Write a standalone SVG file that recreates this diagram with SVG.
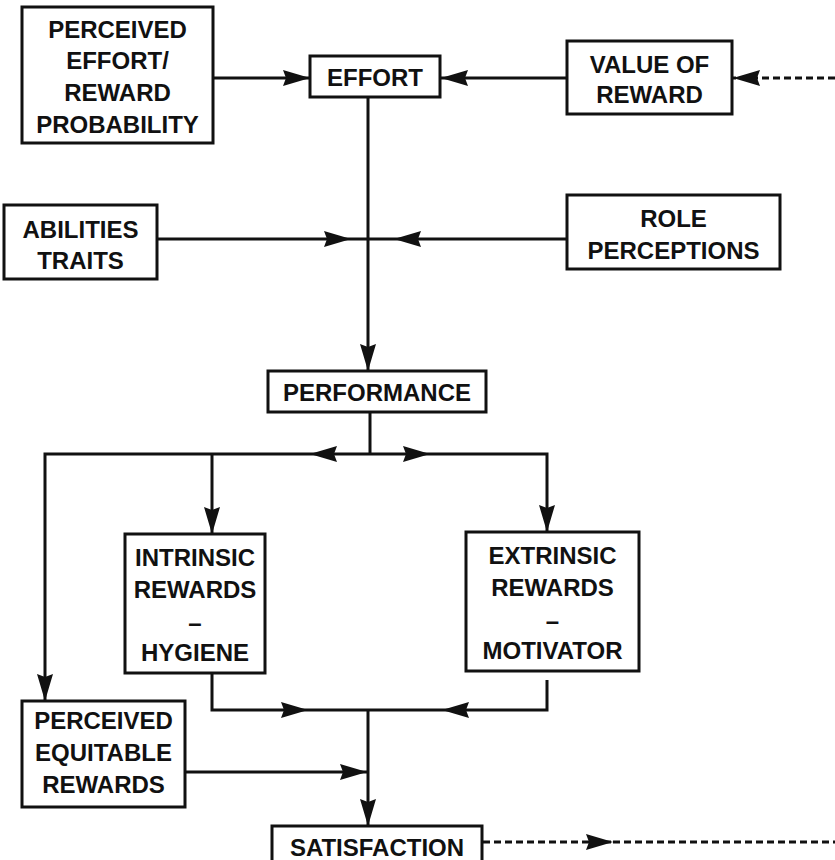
<svg xmlns="http://www.w3.org/2000/svg" width="835" height="860" viewBox="0 0 835 860">
  <style>
    .box { fill: #fff; stroke: #111; stroke-width: 3; }
    .lbl { font-family: "Liberation Sans", Arial, sans-serif; font-weight: bold; font-size: 24px; fill: #111; text-anchor: middle; }
    .ln { fill: none; stroke: #111; stroke-width: 3; }
    .dash { fill: none; stroke: #111; stroke-width: 3; stroke-dasharray: 7 4; }
  </style>
  <defs>
    <marker id="arrow" markerUnits="userSpaceOnUse" markerWidth="30" markerHeight="18" refX="27" refY="8" orient="auto">
      <path d="M0,0 L27,8 L0,16 L3,8 z" fill="#111"/>
    </marker>
  </defs>
  <rect width="835" height="860" fill="#fff"/>

  <g id="connectors">
    <!-- inputs to effort -->
    <line class="ln" x1="213" y1="78" x2="310" y2="78" marker-end="url(#arrow)"/>
    <line class="ln" x1="567" y1="78" x2="441" y2="78" marker-end="url(#arrow)"/>
    <line class="dash" x1="835" y1="78" x2="733" y2="78" marker-end="url(#arrow)"/>
    <!-- effort to performance -->
    <line class="ln" x1="368" y1="97" x2="368" y2="371" marker-end="url(#arrow)"/>
    <!-- abilities / role perceptions into the effort line -->
    <line class="ln" x1="157" y1="239" x2="351" y2="239" marker-end="url(#arrow)"/>
    <line class="ln" x1="351" y1="239" x2="394" y2="239"/>
    <line class="ln" x1="567" y1="239" x2="394" y2="239" marker-end="url(#arrow)"/>
    <!-- performance split -->
    <line class="ln" x1="370" y1="412" x2="370" y2="454"/>
    <line class="ln" x1="370" y1="454" x2="310" y2="454" marker-end="url(#arrow)"/>
    <polyline class="ln" points="310,454 45,454 45,701" marker-end="url(#arrow)"/>
    <line class="ln" x1="212" y1="454" x2="212" y2="534" marker-end="url(#arrow)"/>
    <line class="ln" x1="370" y1="454" x2="430" y2="454" marker-end="url(#arrow)"/>
    <polyline class="ln" points="430,454 547,454 547,532" marker-end="url(#arrow)"/>
    <!-- rewards to satisfaction -->
    <polyline class="ln" points="212,673 212,710 308,710" marker-end="url(#arrow)"/>
    <line class="ln" x1="308" y1="710" x2="368" y2="710"/>
    <polyline class="ln" points="547,680 547,710 442,710" marker-end="url(#arrow)"/>
    <line class="ln" x1="442" y1="710" x2="368" y2="710"/>
    <line class="ln" x1="185" y1="772" x2="367" y2="772" marker-end="url(#arrow)"/>
    <line class="ln" x1="368" y1="710" x2="368" y2="826" marker-end="url(#arrow)"/>
    <!-- satisfaction feedback -->
    <line class="dash" x1="483" y1="842" x2="613" y2="842" marker-end="url(#arrow)"/>
    <line class="dash" x1="613" y1="842" x2="835" y2="842"/>
  </g>

  <g id="perceived-effort-reward">
    <rect class="box" x="22" y="7" width="191" height="136"/>
    <text class="lbl" x="117.5" y="38">PERCEIVED</text>
    <text class="lbl" x="117.5" y="69">EFFORT/</text>
    <text class="lbl" x="117.5" y="101">REWARD</text>
    <text class="lbl" x="117.5" y="133">PROBABILITY</text>
  </g>

  <g id="effort">
    <rect class="box" x="310" y="56" width="130" height="41"/>
    <text class="lbl" x="375" y="86">EFFORT</text>
  </g>

  <g id="value-of-reward">
    <rect class="box" x="567" y="41" width="165" height="73"/>
    <text class="lbl" x="649.5" y="73">VALUE OF</text>
    <text class="lbl" x="649.5" y="103">REWARD</text>
  </g>

  <g id="abilities-traits">
    <rect class="box" x="4" y="205" width="153" height="74"/>
    <text class="lbl" x="80.5" y="238">ABILITIES</text>
    <text class="lbl" x="80.5" y="269">TRAITS</text>
  </g>

  <g id="role-perceptions">
    <rect class="box" x="567" y="195" width="213" height="74"/>
    <text class="lbl" x="673.5" y="227">ROLE</text>
    <text class="lbl" x="673.5" y="259">PERCEPTIONS</text>
  </g>

  <g id="performance">
    <rect class="box" x="268" y="371" width="218" height="41"/>
    <text class="lbl" x="377" y="401">PERFORMANCE</text>
  </g>

  <g id="intrinsic-rewards">
    <rect class="box" x="125" y="534" width="140" height="139"/>
    <text class="lbl" x="195" y="566">INTRINSIC</text>
    <text class="lbl" x="195" y="598">REWARDS</text>
    <text class="lbl" x="195" y="631">–</text>
    <text class="lbl" x="195" y="661">HYGIENE</text>
  </g>

  <g id="extrinsic-rewards">
    <rect class="box" x="466" y="532" width="173" height="139"/>
    <text class="lbl" x="552.5" y="564">EXTRINSIC</text>
    <text class="lbl" x="552.5" y="596">REWARDS</text>
    <text class="lbl" x="552.5" y="629">–</text>
    <text class="lbl" x="552.5" y="659">MOTIVATOR</text>
  </g>

  <g id="perceived-equitable-rewards">
    <rect class="box" x="22" y="701" width="163" height="106"/>
    <text class="lbl" x="103.5" y="729">PERCEIVED</text>
    <text class="lbl" x="103.5" y="761">EQUITABLE</text>
    <text class="lbl" x="103.5" y="793">REWARDS</text>
  </g>

  <g id="satisfaction">
    <rect class="box" x="272" y="826" width="210" height="44"/>
    <text class="lbl" x="377" y="856">SATISFACTION</text>
  </g>
</svg>
